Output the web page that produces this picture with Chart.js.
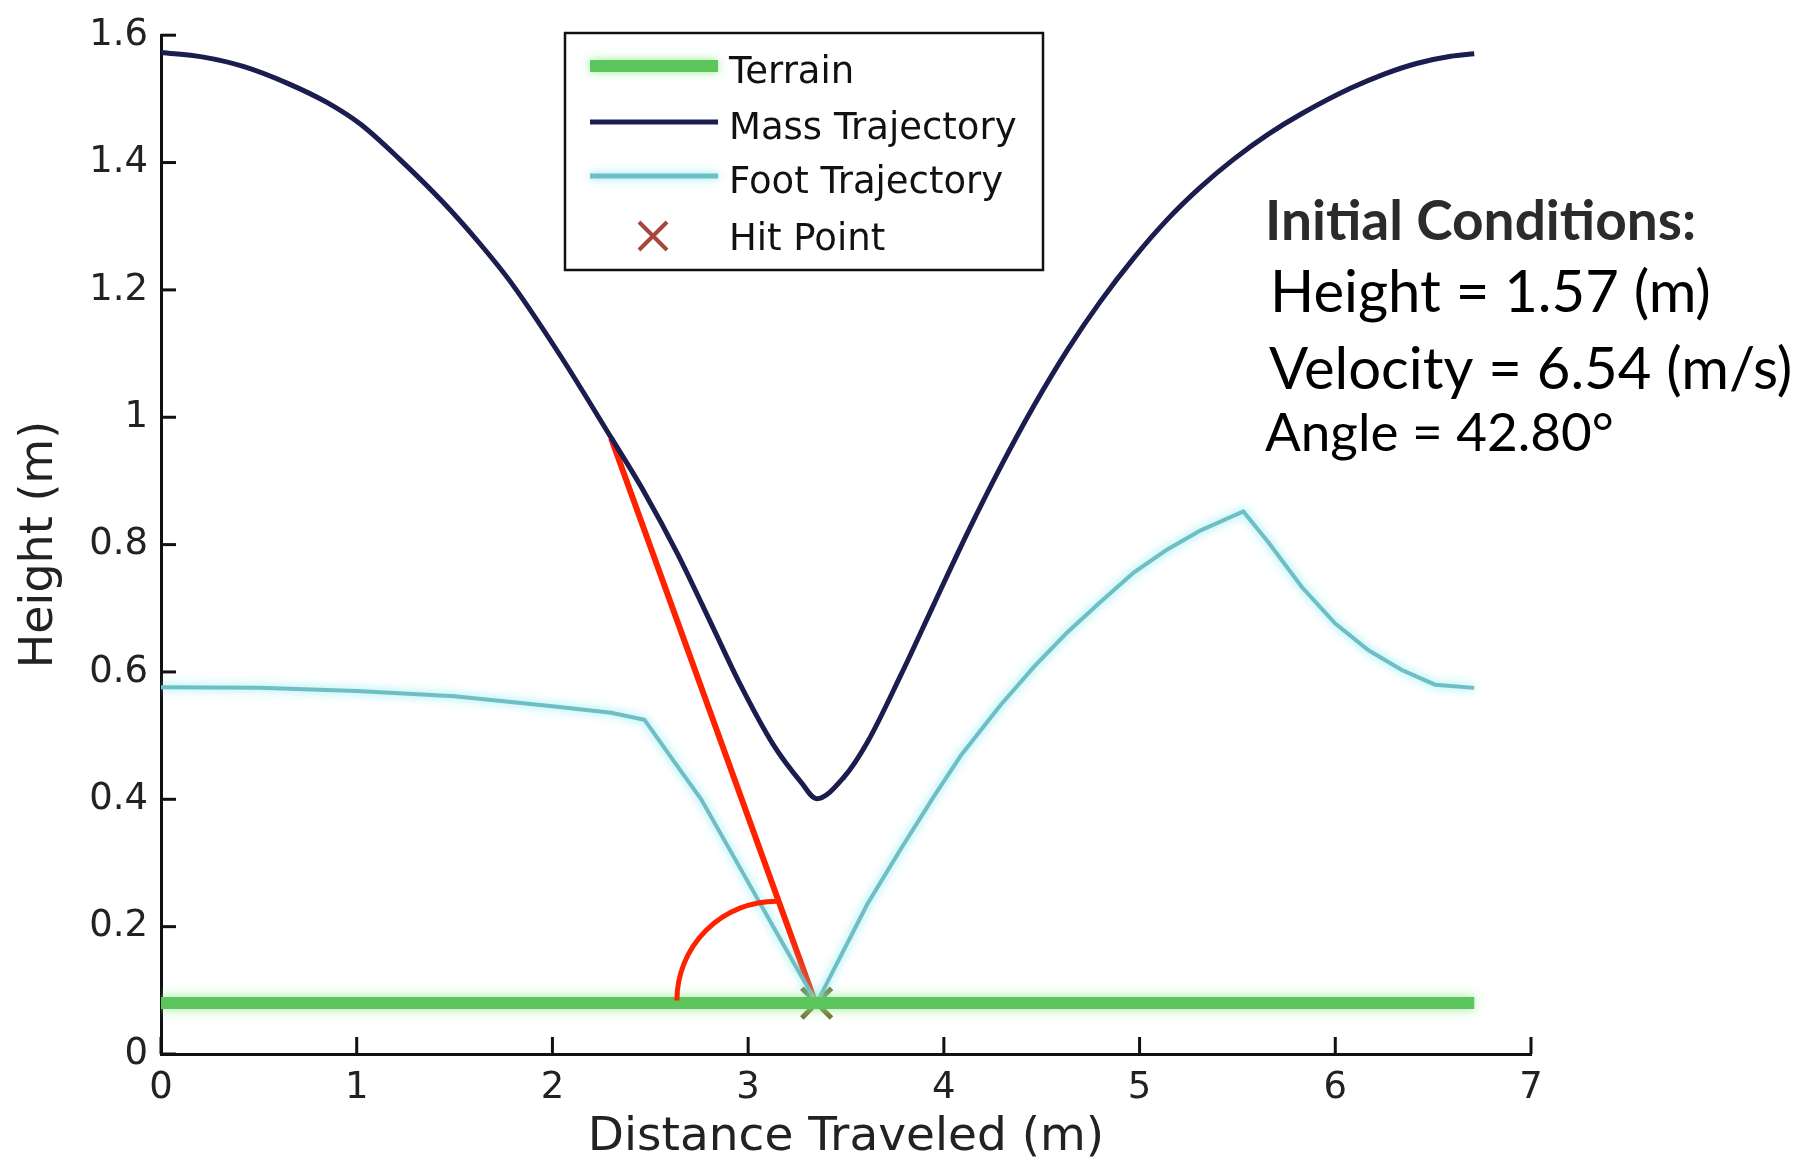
<!DOCTYPE html>
<html>
<head>
<meta charset="utf-8">
<script src="https://cdn.jsdelivr.net/npm/chart.js@4.4.0/dist/chart.umd.min.js"></script>
<style>
  body { margin: 0; background: #fff; }
  #wrap { width: 1814px; height: 1166px; position: relative; }
</style>
</head>
<body>
<div id="wrap"><canvas id="myChart"></canvas></div>
<script>
//Data (x = distance in m, y = height in m)
var massX = [0, 0.21, 0.42, 0.65, 0.85, 1.02, 1.22, 1.44, 1.62, 1.785, 2.04, 2.30, 2.47, 2.64, 2.82, 2.96, 3.13, 3.27, 3.35, 3.49, 3.61, 3.78, 3.95, 4.12, 4.29, 4.46, 4.63, 4.80, 4.97, 5.14, 5.31, 5.48, 5.66, 5.83, 6.08, 6.25, 6.42, 6.59, 6.71];
var massY = [1.573, 1.566, 1.551, 1.524, 1.494, 1.460, 1.405, 1.338, 1.276, 1.213, 1.097, 0.968, 0.882, 0.785, 0.67, 0.58, 0.485, 0.427, 0.401, 0.435, 0.49, 0.595, 0.707, 0.818, 0.922, 1.018, 1.105, 1.182, 1.250, 1.310, 1.361, 1.405, 1.445, 1.477, 1.517, 1.539, 1.556, 1.567, 1.571];
var footX = [0, 0.5, 1.0, 1.5, 2.0, 2.3, 2.47, 2.62, 2.76, 2.95, 3.15, 3.35, 3.61, 3.78, 3.95, 4.09, 4.29, 4.46, 4.63, 4.80, 4.97, 5.14, 5.31, 5.53, 5.66, 5.83, 6.00, 6.17, 6.34, 6.51, 6.71];
var footY = [0.576, 0.575, 0.570, 0.562, 0.546, 0.536, 0.525, 0.46, 0.40, 0.297, 0.188, 0.08, 0.236, 0.322, 0.405, 0.47, 0.548, 0.608, 0.662, 0.71, 0.756, 0.792, 0.822, 0.852, 0.803, 0.733, 0.676, 0.634, 0.603, 0.580, 0.575];
var terrainX = [0, 6.71];
var terrainY = [0.08, 0.08];
var hitX = [3.35];
var hitY = [0.08];
//red angle line and arc (hand drawn annotation)
var angleLineX = [2.30, 3.35];
var angleLineY = [0.967, 0.075];
var angleArc = { cx: 3.146, cy: 0.084, rx: 0.51, ry: 0.156 };

var xTicks = [0, 1, 2, 3, 4, 5, 6, 7];
var xTickLabels = ['0', '1', '2', '3', '4', '5', '6', '7'];
var yTicks = [0, 0.2, 0.4, 0.6, 0.8, 1.0, 1.2, 1.4, 1.6];
var yTickLabels = ['0', '0.2', '0.4', '0.6', '0.8', '1', '1.2', '1.4', '1.6'];

var legendLabels = ['Terrain', 'Mass Trajectory', 'Foot Trajectory', 'Hit Point'];
var noteTitle = 'Initial Conditions:';
var noteLines = ['Height = 1.57 (m)', 'Velocity = 6.54 (m/s)', 'Angle = 42.80°'];

// Colors
var green = '#5cc55c', navy = '#1b1d4f', teal = '#6fbec4', red = '#ff2200';

function toPoints(xs, ys) {
    return xs.map(function (x, i) { return { x: x, y: ys[i] }; });
}

// soft glow round some lines
var glowPlugin = {
    id: 'glow',
    beforeDatasetDraw: function (chart, args) {
        var ds = chart.data.datasets[args.index];
        chart.ctx.save();
        if (ds.glowColor) {
            chart.ctx.shadowColor = ds.glowColor;
            chart.ctx.shadowBlur = ds.glowBlur;
        }
    },
    afterDatasetDraw: function (chart) {
        chart.ctx.restore();
    }
};

// tick marks pointing inside, matlab style
var innerTicks = {
    id: 'innerTicks',
    afterDraw: function (chart) {
        var ctx = chart.ctx, xs = chart.scales.x, ys = chart.scales.y, area = chart.chartArea;
        ctx.save();
        ctx.strokeStyle = '#111';
        ctx.lineWidth = 3;
        xTicks.forEach(function (v) {
            var px = xs.getPixelForValue(v);
            ctx.beginPath(); ctx.moveTo(px, area.bottom); ctx.lineTo(px, area.bottom - 17); ctx.stroke();
        });
        yTicks.forEach(function (v) {
            var py = ys.getPixelForValue(v);
            ctx.beginPath(); ctx.moveTo(area.left, py); ctx.lineTo(area.left + 15, py); ctx.stroke();
        });
        ctx.restore();
    }
};

// the red arc of the angle
var arcPlugin = {
    id: 'angleArc',
    afterDatasetsDraw: function (chart) {
        var ctx = chart.ctx, xs = chart.scales.x, ys = chart.scales.y;
        var cx = xs.getPixelForValue(angleArc.cx), cy = ys.getPixelForValue(angleArc.cy);
        var rx = xs.getPixelForValue(angleArc.cx + angleArc.rx) - cx;
        var ry = cy - ys.getPixelForValue(angleArc.cy + angleArc.ry);
        ctx.save();
        ctx.strokeStyle = red;
        ctx.lineWidth = 5;
        ctx.beginPath();
        ctx.ellipse(cx, cy, rx, ry, 0, Math.PI, 1.5 * Math.PI);
        ctx.stroke();
        ctx.restore();
    }
};

// boxed legend inside the plot
var boxLegend = {
    id: 'boxLegend',
    afterDraw: function (chart) {
        var ctx = chart.ctx;
        var rows = [66, 122, 176, 236];
        var base = [83, 139, 193, 250];
        ctx.save();
        ctx.fillStyle = '#fff';
        ctx.fillRect(565, 33, 478, 237);
        ctx.strokeStyle = '#111';
        ctx.lineWidth = 2.5;
        ctx.strokeRect(565, 33, 478, 237);

        ctx.lineCap = 'butt';
        // terrain
        ctx.save();
        ctx.shadowColor = 'rgba(140,235,140,0.9)'; ctx.shadowBlur = 10;
        ctx.strokeStyle = green; ctx.lineWidth = 12;
        ctx.beginPath(); ctx.moveTo(590, rows[0]); ctx.lineTo(718, rows[0]); ctx.stroke();
        ctx.restore();
        // mass
        ctx.strokeStyle = navy; ctx.lineWidth = 5;
        ctx.beginPath(); ctx.moveTo(590, rows[1]); ctx.lineTo(718, rows[1]); ctx.stroke();
        // foot
        ctx.save();
        ctx.shadowColor = 'rgba(110,230,240,0.9)'; ctx.shadowBlur = 8;
        ctx.strokeStyle = teal; ctx.lineWidth = 5;
        ctx.beginPath(); ctx.moveTo(590, rows[2]); ctx.lineTo(718, rows[2]); ctx.stroke();
        ctx.restore();
        // hit point
        ctx.strokeStyle = '#a9463c'; ctx.lineWidth = 4;
        ctx.beginPath();
        ctx.moveTo(639, rows[3] - 14); ctx.lineTo(667, rows[3] + 14);
        ctx.moveTo(667, rows[3] - 14); ctx.lineTo(639, rows[3] + 14);
        ctx.stroke();

        ctx.fillStyle = '#111';
        ctx.font = '37px "DejaVu Sans"';
        ctx.textBaseline = 'alphabetic';
        legendLabels.forEach(function (t, i) { ctx.fillText(t, 729, base[i]); });
        ctx.restore();
    }
};

// Initial conditions text on the right
var notes = {
    id: 'notes',
    afterDraw: function (chart) {
        var ctx = chart.ctx;
        ctx.save();
        ctx.textBaseline = 'alphabetic';
        ctx.fillStyle = '#2b2b2b';
        ctx.font = 'bold 55px Lato';
        ctx.fillText(noteTitle, 1265, 240);
        ctx.fillStyle = '#000';
        ctx.font = '58px Lato';
        ctx.fillText(noteLines[0], 1270, 312);
        ctx.fillText(noteLines[1], 1269, 389);
        ctx.font = '53px Lato';
        ctx.fillText(noteLines[2], 1265, 451);
        ctx.restore();
    }
};

var ctx = document.getElementById('myChart');
var myChart = new Chart(ctx, {
    type: 'line',
    data: {
        datasets: [{
            label: legendLabels[0],
            data: toPoints(terrainX, terrainY),
            borderColor: green,
            borderWidth: 12,
            glowColor: 'rgba(140,235,140,0.9)',
            glowBlur: 12,
            pointRadius: 0,
            tension: 0
        }, {
            label: legendLabels[1],
            data: toPoints(massX, massY),
            borderColor: navy,
            borderWidth: 5,
            pointRadius: 0,
            cubicInterpolationMode: 'monotone'
        }, {
            label: legendLabels[2],
            data: toPoints(footX, footY),
            borderColor: teal,
            borderWidth: 4,
            glowColor: 'rgba(110,230,240,0.9)',
            glowBlur: 10,
            pointRadius: 0,
            tension: 0
        }, {
            label: legendLabels[3],
            data: toPoints(hitX, hitY),
            showLine: false,
            pointStyle: 'crossRot',
            pointRadius: 21,
            pointBorderWidth: 5,
            pointBorderColor: 'rgba(105,95,35,0.9)',
            borderColor: 'rgba(105,95,35,0.9)'
        }, {
            label: 'angle',
            data: toPoints(angleLineX, angleLineY),
            borderColor: red,
            borderWidth: 6,
            pointRadius: 0,
            tension: 0
        }]
    },
    options: {
        responsive: true,
        maintainAspectRatio: false,
        animation: false,
        layout: { padding: { top: 26, right: 283, left: 0, bottom: 0 } },
        plugins: {
            legend: { display: false },
            tooltip: { enabled: false }
        },
        scales: {
            x: {
                type: 'linear',
                min: 0,
                max: 7,
                afterFit: function (s) { s.height = 112; },
                afterBuildTicks: function (s) { s.ticks = xTicks.map(function (v) { return { value: v }; }); },
                grid: { display: true, drawOnChartArea: false, drawTicks: false },
                border: { display: true, color: '#111', width: 3 },
                ticks: {
                    autoSkip: false,
                    maxRotation: 0,
                    padding: 12,
                    color: '#222',
                    font: { family: 'DejaVu Sans', size: 37 },
                    callback: function (v, i) { return xTickLabels[i]; }
                },
                title: {
                    display: true,
                    text: 'Distance Traveled (m)',
                    color: '#222',
                    font: { family: 'DejaVu Sans', size: 47 },
                    padding: { top: 0, bottom: 0 }
                }
            },
            y: {
                min: 0,
                max: 1.6,
                afterFit: function (s) { s.width = 161; },
                afterBuildTicks: function (s) { s.ticks = yTicks.map(function (v) { return { value: v }; }); },
                grid: { display: true, drawOnChartArea: false, drawTicks: false },
                border: { display: true, color: '#111', width: 3 },
                ticks: {
                    autoSkip: false,
                    padding: 13,
                    color: '#222',
                    font: { family: 'DejaVu Sans', size: 37 },
                    callback: function (v, i) { return yTickLabels[i]; }
                },
                title: {
                    display: true,
                    text: 'Height (m)',
                    color: '#222',
                    font: { family: 'DejaVu Sans', size: 46 },
                    padding: { top: 12, bottom: 0 }
                }
            }
        }
    },
    plugins: [glowPlugin, arcPlugin, innerTicks, boxLegend, notes]
});
</script>
</body>
</html>
